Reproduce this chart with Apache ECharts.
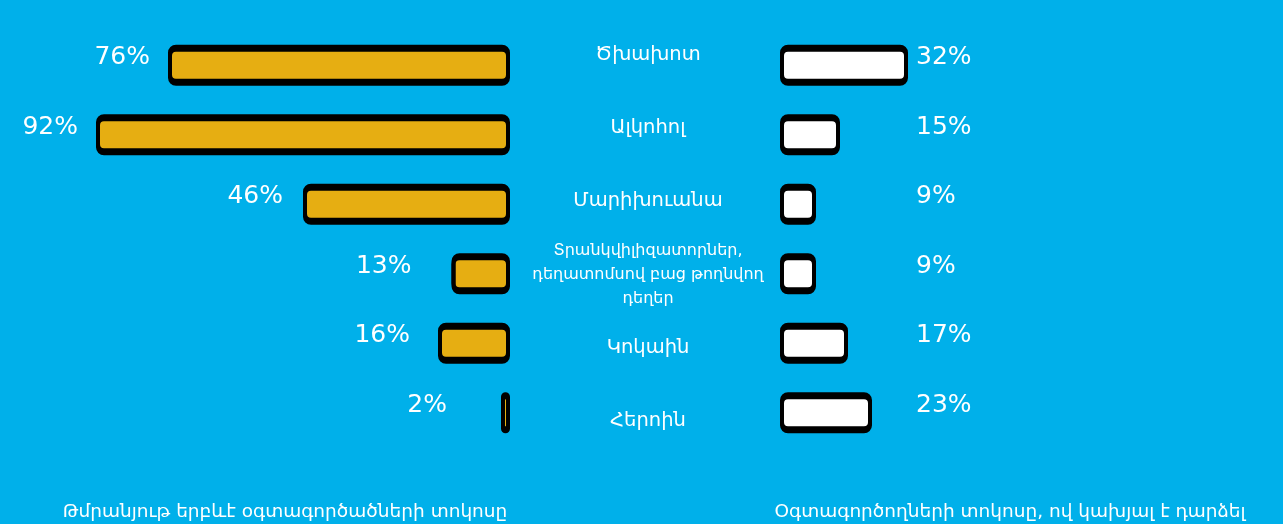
<!DOCTYPE html>
<html>
<head>
<meta charset="utf-8">
<script src="https://cdn.jsdelivr.net/npm/echarts@6/dist/echarts.min.js"></script>
<style>
  html, body { margin: 0; padding: 0; background: #ffffff; }
  #chart { width: 1283px; height: 524px; background: #00B0EA; }
</style>
</head>
<body>
<div id="chart"></div>
<script>
// ---- data ----
const categories = [
  "Ծխախոտ",
  "Ալկոհոլ",
  "Մարիխուանա",
  "Տրանկվիլիզատորներ,\nդեղատոմսով բաց թողնվող\nդեղեր",
  "Կոկաին",
  "Հերոին"
];
const everUsed = [76, 92, 46, 13, 16, 2];       // left series (%)
const dependent = [32, 15, 9, 9, 17, 23];       // right series (%)
const leftTitle = "Թմրանյութ երբևէ օգտագործածների տոկոսը";
const rightTitle = "Օգտագործողների տոկոսը, ով կախյալ է դարձել";

// ---- styling ----
const BG = '#00B0EA';
const GOLD = '#E6AE12';
const armFont = 'DejaVu Sans';
const numFont = 'DejaVu Sans';
const leftLabelGap = [18, 18, 20, 40, 28, 54];

const chart = echarts.init(document.getElementById('chart'));

const centerAxisData = categories.map((c, i) => ({
  value: c,
  textStyle: i === 3
    ? { align: 'center', fontSize: 16, lineHeight: 24, color: '#fff', fontFamily: armFont }
    : { align: 'center', fontSize: 19.5, color: '#fff', fontFamily: armFont }
}));

const leftData = everUsed.map((v, i) => ({
  value: v,
  label: { distance: leftLabelGap[i] }
}));

chart.setOption({
  backgroundColor: BG,
  animation: false,
  title: [
    { text: leftTitle, left: 280, top: 498, textAlign: 'center',
      textStyle: { color: '#fff', fontSize: 18.5, fontWeight: 'normal', fontFamily: armFont } },
    { text: rightTitle, left: 1005, top: 498, textAlign: 'center',
      textStyle: { color: '#fff', fontSize: 18.5, fontWeight: 'normal', fontFamily: armFont } }
  ],
  grid: [
    { left: 60, right: 773, top: 29, height: 417 },
    { left: 780, right: 103, top: 29, height: 417 },
    { left: 648, right: 634, top: 18, height: 440 },
    { left: 780, right: 103, top: 23, height: 417 }
  ],
  xAxis: [
    { gridIndex: 0, type: 'value', min: 0, max: 100, inverse: true, show: false },
    { gridIndex: 1, type: 'value', min: 0, max: 100, show: false },
    { gridIndex: 2, type: 'value', min: 0, max: 1, show: false },
    { gridIndex: 3, type: 'value', min: 0, max: 100, show: false }
  ],
  yAxis: [
    { gridIndex: 0, type: 'category', data: categories, inverse: true, show: false },
    { gridIndex: 1, type: 'category', data: categories, inverse: true, show: false },
    { gridIndex: 2, type: 'category', data: centerAxisData, inverse: true, position: 'left',
      axisLine: { show: false }, axisTick: { show: false }, splitLine: { show: false },
      axisLabel: { margin: 0, align: 'center', color: '#fff', fontSize: 19.5, fontFamily: armFont, interval: 0 } },
    { gridIndex: 3, type: 'category', data: categories, inverse: true, position: 'left',
      axisLine: { show: false }, axisTick: { show: false }, splitLine: { show: false },
      axisLabel: {
        margin: -136, align: 'left', color: '#fff', fontSize: 25, fontFamily: numFont, interval: 0,
        formatter: (v, i) => dependent[i] + '%'
      } }
  ],
  series: [
    {
      type: 'bar', xAxisIndex: 0, yAxisIndex: 0, data: leftData, barWidth: 38,
      itemStyle: { color: GOLD, borderColor: '#000', borderWidth: 4, borderRadius: 6,
        shadowColor: '#000', shadowOffsetY: 3, shadowBlur: 0 },
      label: { show: true, position: 'left', distance: 18, formatter: '{c}%',
        color: '#fff', fontSize: 25, fontFamily: numFont, offset: [0, -6] }
    },
    {
      type: 'bar', xAxisIndex: 1, yAxisIndex: 1, data: dependent, barWidth: 38,
      itemStyle: { color: '#fff', borderColor: '#000', borderWidth: 4, borderRadius: 6,
        shadowColor: '#000', shadowOffsetY: 3, shadowBlur: 0 }
    }
  ]
});
</script>
</body>
</html>
